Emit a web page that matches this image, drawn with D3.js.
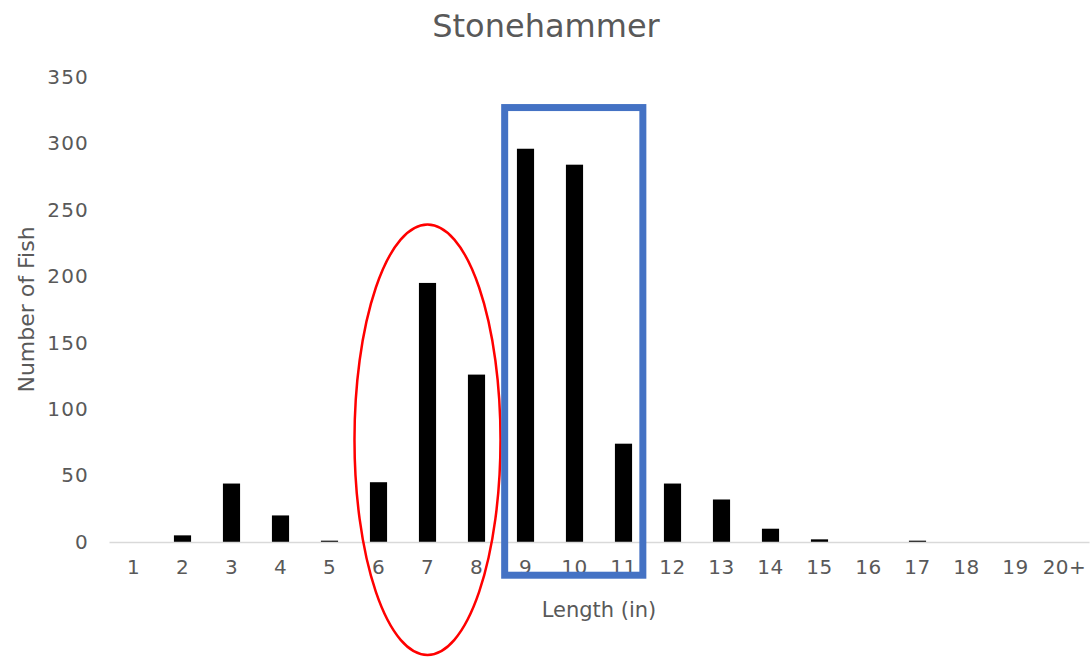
<!DOCTYPE html>
<html>
<head>
<meta charset="utf-8">
<script src="https://cdn.jsdelivr.net/npm/d3@7"></script>
<style>
  body { margin: 0; background: #fff; }
  text { font-family: "DejaVu Sans", sans-serif; fill: #595959; }
</style>
</head>
<body>
<div id="chart"></div>
<script>
// length classes and fish counts
const lengths = ['1','2','3','4','5','6','7','8','9','10','11','12','13','14','15','16','17','18','19','20+'];
const counts  = [0, 5, 44, 20, 1, 45, 195, 126, 296, 284, 74, 44, 32, 10, 2, 0, 1, 0, 0, 0];
const yTicks  = [0, 50, 100, 150, 200, 250, 300, 350];

// groups highlighted in the picture
const circled = ['6', '7', '8'];
const boxed   = ['9', '10', '11'];

const width = 1091, height = 658;
const margin = { top: 77, right: 2, bottom: 116, left: 109 };
const tickFont = '20px';

const svg = d3.select('#chart').append('svg')
  .attr('width', width)
  .attr('height', height);

const x = d3.scaleBand()
  .domain(lengths)
  .range([margin.left, width - margin.right])
  .paddingInner(0.65)
  .paddingOuter(0.325);

const y = d3.scaleLinear()
  .domain([0, 350])
  .range([height - margin.bottom, margin.top]);

// title
svg.append('text')
  .attr('x', 546)
  .attr('y', 37)
  .attr('text-anchor', 'middle')
  .style('font-size', '32px')
  .text('Stonehammer');

// y axis labels (no line)
const yAxis = svg.append('g')
  .attr('transform', `translate(${margin.left},0)`)
  .call(d3.axisLeft(y).tickValues(yTicks).tickSize(0).tickPadding(20));
yAxis.select('.domain').remove();
yAxis.selectAll('text')
  .style('font-size', tickFont)
  .style('font-family', '"DejaVu Sans", sans-serif')
  .style('letter-spacing', '1.2px')
  .attr('fill', '#595959');

// bars
svg.append('g')
  .selectAll('rect')
  .data(counts)
  .join('rect')
  .attr('x', (d, i) => x(lengths[i]))
  .attr('y', d => y(d))
  .attr('width', x.bandwidth())
  .attr('height', d => y(0) - y(d))
  .attr('fill', '#000');

// x axis
const xAxis = svg.append('g')
  .attr('transform', `translate(0,${y(0)})`)
  .call(d3.axisBottom(x).tickSize(0).tickPadding(18));
xAxis.select('.domain').attr('stroke', '#d9d9d9').attr('stroke-width', 1.5);
xAxis.selectAll('text')
  .style('font-size', tickFont)
  .style('font-family', '"DejaVu Sans", sans-serif')
  .style('letter-spacing', '0.5px')
  .attr('fill', '#595959');

// axis titles
svg.append('text')
  .attr('x', 599)
  .attr('y', 617)
  .attr('text-anchor', 'middle')
  .style('font-size', '21px')
  .text('Length (in)');

svg.append('text')
  .attr('transform', `translate(34,${(y(0) + y(350)) / 2}) rotate(-90)`)
  .attr('text-anchor', 'middle')
  .style('font-size', '22px')
  .text('Number of Fish');

// red ellipse around 6-8
const step = x.step();
const cx = x(circled[1]) + x.bandwidth() / 2;
svg.append('ellipse')
  .attr('cx', cx)
  .attr('cy', y(77))
  .attr('rx', step * 1.49)
  .attr('ry', y(0) - y(162))
  .attr('fill', 'none')
  .attr('stroke', '#ff0000')
  .attr('stroke-width', 2.5);

// blue box around 9-11
const bx0 = x(boxed[0]) - step * 0.25;
const bx1 = x(boxed[2]) + x.bandwidth() + step * 0.22;
svg.append('rect')
  .attr('x', bx0)
  .attr('y', y(327))
  .attr('width', bx1 - bx0)
  .attr('height', y(-25) - y(327))
  .attr('fill', 'none')
  .attr('stroke', '#4472c4')
  .attr('stroke-width', 7);
</script>
</body>
</html>
